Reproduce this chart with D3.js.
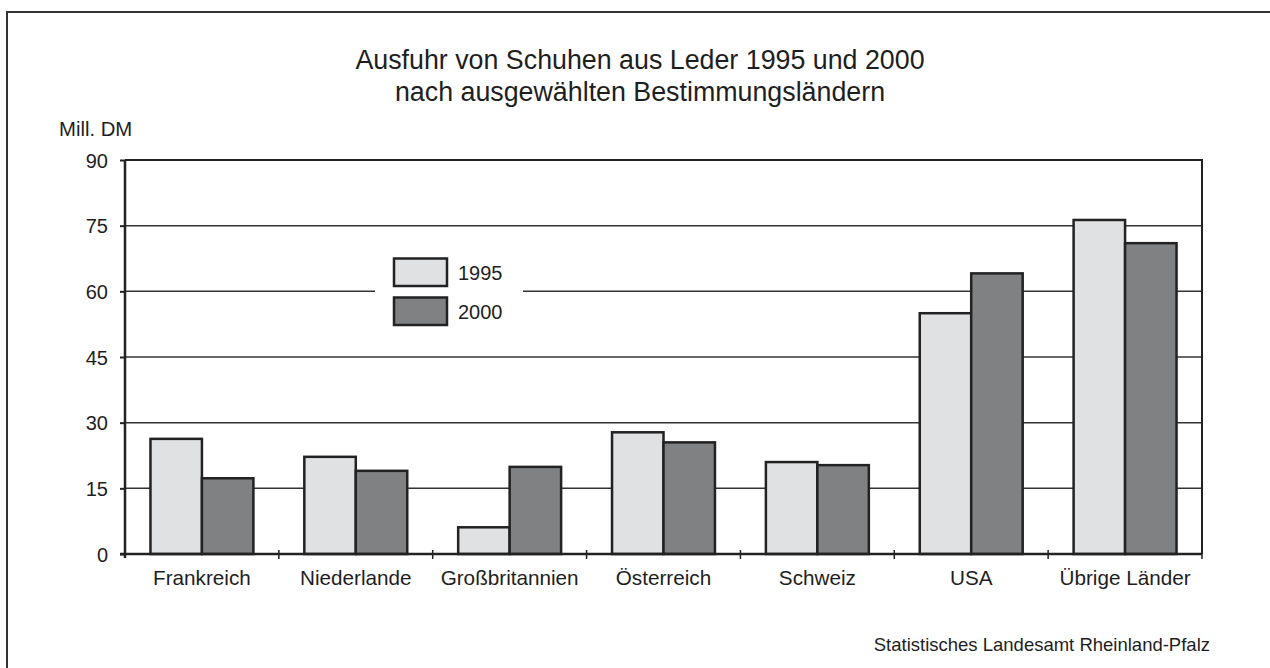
<!DOCTYPE html>
<html>
<head>
<meta charset="utf-8">
<script src="https://cdn.jsdelivr.net/npm/d3@7"></script>
<style>
  html, body { margin: 0; padding: 0; background: #fff; }
  svg { display: block; }
  text { font-family: "Liberation Sans", Arial, Helvetica, sans-serif; fill: #1e1e1e; }
</style>
</head>
<body>
<svg id="chart" width="1270" height="668"></svg>
<script>
const categories = ["Frankreich", "Niederlande", "Großbritannien", "Österreich", "Schweiz", "USA", "Übrige Länder"];
const values1995 = [26.3, 22.2, 6.1, 27.8, 21.0, 55.0, 76.3];
const values2000 = [17.3, 19.0, 19.9, 25.5, 20.3, 64.1, 71.0];
const seriesNames = ["1995", "2000"];
const yTicks = [0, 15, 30, 45, 60, 75, 90];
const titleLines = ["Ausfuhr von Schuhen aus Leder 1995 und 2000", "nach ausgewählten Bestimmungsländern"];
const unitLabel = "Mill. DM";
const sourceLabel = "Statistisches Landesamt Rheinland-Pfalz";

const colors = ["#e0e1e3", "#808183"];
const ink = "#222";

const svg = d3.select("#chart");
const pL = 125, pR = 1202, pT = 160, pB = 554;

// outer frame
svg.append("rect").attr("x", 7).attr("y", 12).attr("width", 1300).attr("height", 700)
  .attr("fill", "none").attr("stroke", "#333").attr("stroke-width", 2);

// title
svg.selectAll("text.title").data(titleLines).join("text")
  .attr("class", "title")
  .attr("x", 640).attr("y", (d, i) => 69 + i * 32)
  .attr("text-anchor", "middle").attr("font-size", 26.8)
  .text(d => d);

const x0 = d3.scaleBand().domain(categories).range([pL, pR]).paddingInner(0.331).paddingOuter(0.1655);
const x1 = d3.scaleBand().domain(seriesNames).range([0, x0.bandwidth()]);
const y = d3.scaleLinear().domain([0, 90]).range([pB, pT]);

// gridlines
svg.append("g").selectAll("line").data(yTicks.filter(t => t > 0 && t < 90)).join("line")
  .attr("x1", pL).attr("x2", pR).attr("y1", d => y(d)).attr("y2", d => y(d))
  .attr("stroke", "#333").attr("stroke-width", 1.5);

// plot frame top & right
svg.append("path")
  .attr("d", `M${pL},${y(90)}H${pR}V${pB}`)
  .attr("fill", "none").attr("stroke", ink).attr("stroke-width", 2);

// legend background
svg.append("rect").attr("x", 375).attr("y", 245).attr("width", 148).attr("height", 92).attr("fill", "#fff");

// bars
const rows = categories.map((c, i) => ({ cat: c, vals: [values1995[i], values2000[i]] }));
const groups = svg.append("g").selectAll("g").data(rows).join("g")
  .attr("transform", d => `translate(${x0(d.cat)},0)`);
groups.selectAll("rect").data(d => d.vals.map((v, j) => ({ s: seriesNames[j], v, j }))).join("rect")
  .attr("x", d => x1(d.s)).attr("width", x1.bandwidth())
  .attr("y", d => y(d.v)).attr("height", d => y(0) - y(d.v))
  .attr("fill", d => colors[d.j]).attr("stroke", ink).attr("stroke-width", 2.5);

// y axis
const yAxis = d3.axisLeft(y).tickValues(yTicks).tickSize(5).tickPadding(12);
const gy = svg.append("g").attr("transform", `translate(${pL},0)`).call(yAxis);
gy.select(".domain").attr("d", `M0,${pT}V${pB + 4}`).attr("stroke", ink).attr("stroke-width", 2.5);
gy.selectAll(".tick line").attr("stroke", ink).attr("stroke-width", 2);
gy.selectAll(".tick text").attr("font-size", 20).attr("font-family", null).attr("fill", "#1e1e1e").attr("dy", "0.36em");

// x axis: baseline + category boundary ticks
const boundaries = d3.range(categories.length + 1).map(i => pL + i * x0.step());
svg.append("line").attr("x1", pL - 5).attr("x2", pR).attr("y1", pB).attr("y2", pB)
  .attr("stroke", ink).attr("stroke-width", 2.5);
svg.append("g").selectAll("line").data(boundaries.slice(1)).join("line")
  .attr("x1", d => d).attr("x2", d => d).attr("y1", pB - 4).attr("y2", pB + 5)
  .attr("stroke", ink).attr("stroke-width", 1.5);
svg.append("g").selectAll("text").data(categories).join("text")
  .attr("x", d => x0(d) + x0.bandwidth() / 2).attr("y", 585)
  .attr("text-anchor", "middle").attr("font-size", 20.7)
  .text(d => d);

// unit label
svg.append("text").attr("x", 59).attr("y", 136).attr("font-size", 20.3).text(unitLabel);

// legend
const lg = svg.append("g").selectAll("g").data(seriesNames).join("g")
  .attr("transform", (d, i) => `translate(394,${258.5 + i * 39})`);
lg.append("rect").attr("width", 53).attr("height", 27.5)
  .attr("fill", (d, i) => colors[i]).attr("stroke", ink).attr("stroke-width", 2.5);
lg.append("text").attr("x", 64).attr("y", 21).attr("font-size", 20).text(d => d);

// source
svg.append("text").attr("x", 1210).attr("y", 651).attr("text-anchor", "end").attr("font-size", 18.5).text(sourceLabel);
</script>
</body>
</html>
